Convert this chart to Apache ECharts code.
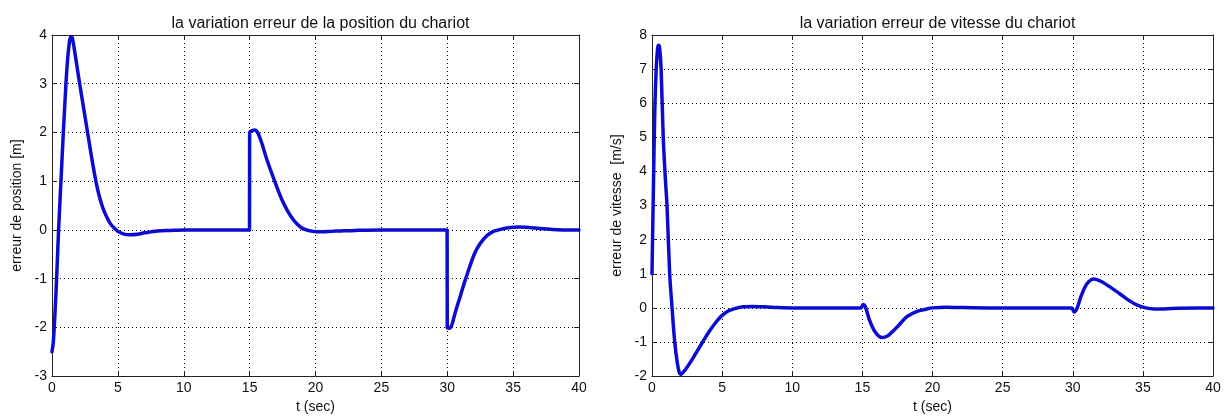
<!DOCTYPE html>
<html>
<head>
<meta charset="utf-8">
<script src="https://cdn.jsdelivr.net/npm/echarts@6/dist/echarts.min.js"></script>
<style>
html,body{margin:0;padding:0;background:#fff;}
#c{width:1225px;height:419px;}
</style>
</head>
<body>
<div id="c"></div>
<script>
// ---- Data ----
var titles = ["la variation erreur de la position du chariot", "la variation erreur de vitesse du chariot"];
var yNames = ["erreur de position [m]", "erreur de vitesse  [m/s]"];
var xName = "t (sec)";

// position error (left)
var posT = [0,0.1,0.2,0.35,0.5,0.68,0.86,1.06,1.2,1.35,1.45,1.55,1.7,1.9,2.07,2.4,2.7,3.0,3.33,3.6,3.9,4.2,4.5,4.8,5.0,5.4,5.9,6.5,7.0,7.5,8.0,9.0,10,12,14.99,
            15,15.2,15.4,15.6,15.9,16.3,16.9,17.4,17.9,18.4,18.9,19.3,19.8,20.5,21.2,22,23,25,29.99,
            30,30.15,30.35,30.6,31.0,31.4,32.05,32.5,33.0,33.5,33.9,34.5,35.4,36.2,37,38,39,40];
var posV = [-2.5,-2.3,-1.85,-1.0,0.0,1.0,2.0,3.0,3.55,3.9,3.97,3.93,3.7,3.35,3.05,2.5,2.0,1.5,1.0,0.68,0.42,0.24,0.1,0.02,-0.03,-0.08,-0.1,-0.09,-0.06,-0.04,-0.02,-0.01,0,0,0,
            2.0,2.04,2.05,2.0,1.8,1.45,1.0,0.65,0.38,0.18,0.05,0.0,-0.03,-0.04,-0.03,-0.02,-0.01,0,0,
            -2.0,-2.02,-1.95,-1.7,-1.35,-1.0,-0.5,-0.28,-0.12,-0.03,0.0,0.04,0.06,0.05,0.03,0.01,0,0];

// velocity error (right)
var velT = [0,0.1,0.2,0.3,0.4,0.47,0.55,0.65,0.8,0.95,1.07,1.26,1.43,1.62,1.8,1.95,2.05,2.2,2.5,3.0,3.57,4.1,4.6,5.0,5.4,5.9,6.5,7.2,8,9,10,12,14.9,
            15.05,15.2,15.5,15.9,16.4,16.8,17.5,18.2,18.9,19.5,20,21,22,24,29.9,
            30.1,30.3,30.6,31.0,31.5,32.0,32.7,33.4,34.0,34.6,35.2,35.8,36.5,37.5,39,40];
var velV = [1.0,3.5,5.8,7.0,7.6,7.7,7.6,7.0,5.0,3.8,3.0,1.0,0.0,-1.0,-1.6,-1.9,-1.95,-1.9,-1.74,-1.42,-1.03,-0.68,-0.4,-0.22,-0.1,-0.02,0.03,0.04,0.03,0.01,0,0,0,
            0.1,0.05,-0.35,-0.7,-0.87,-0.82,-0.55,-0.25,-0.1,-0.04,0,0.02,0.01,0,0,
            -0.12,-0.02,0.35,0.7,0.85,0.78,0.6,0.4,0.22,0.08,0.0,-0.03,-0.03,-0.01,0,0];

var yRanges = [[-3, 4, 1], [-2, 8, 1]];
var xRange = [0, 40, 5];

function zip(a, b) { return a.map(function (t, i) { return [t, b[i]]; }); }

var FONT = 'Liberation Sans, Arial, sans-serif';
var grids = [
  {left: 52, top: 35, width: 527, height: 347},
  {left: 652, top: 35, width: 561, height: 347}
];
var centers = [52 + 527 / 2, 652 + 561 / 2];

var xAxes = [], yAxes = [];
for (var g = 0; g < 2; g++) {
  var common = {
    gridIndex: g, type: 'value',
    axisLine: {show: true, onZero: false, lineStyle: {color: '#222', width: 1}},
    axisTick: {show: true, inside: true, length: 5, lineStyle: {color: '#222'}},
    axisLabel: {show: true, color: '#111', fontSize: 14, fontFamily: FONT, margin: 5},
    splitLine: {show: true, lineStyle: {color: '#000', type: [1, 3], width: 1}}
  };
  xAxes.push(Object.assign({}, common, {
    position: 'bottom', min: xRange[0], max: xRange[1], interval: xRange[2],
    name: xName, nameLocation: 'middle', nameGap: 22,
    nameTextStyle: {color: '#111', fontSize: 14, fontFamily: FONT}
  }));
  xAxes.push(Object.assign({}, common, {
    position: 'top', min: xRange[0], max: xRange[1], interval: xRange[2],
    axisLabel: {show: false}, splitLine: {show: false}
  }));
  yAxes.push(Object.assign({}, common, {
    position: 'left', min: yRanges[g][0], max: yRanges[g][1], interval: yRanges[g][2],
    name: yNames[g], nameLocation: 'middle', nameGap: 28,
    nameTextStyle: {color: '#111', fontSize: 14, fontFamily: FONT}
  }));
  yAxes.push(Object.assign({}, common, {
    position: 'right', min: yRanges[g][0], max: yRanges[g][1], interval: yRanges[g][2],
    axisLabel: {show: false}, splitLine: {show: false}
  }));
}

var chart = echarts.init(document.getElementById('c'), null, {renderer: 'canvas'});
chart.setOption({
  animation: false,
  backgroundColor: '#fff',
  title: titles.map(function (t, i) {
    return {text: t, left: centers[i], top: 11, textAlign: 'center',
      textStyle: {fontSize: 16, fontWeight: 'normal', color: '#111', fontFamily: FONT}};
  }),
  grid: grids,
  xAxis: xAxes,
  yAxis: yAxes,
  series: [
    {type: 'line', xAxisIndex: 0, yAxisIndex: 0, data: zip(posT, posV), showSymbol: false,
     smooth: 0.3, lineStyle: {color: '#0c0cd0', width: 3.5, join: 'round', cap: 'round'}, itemStyle: {color: '#0c0cd0'}},
    {type: 'line', xAxisIndex: 2, yAxisIndex: 2, data: zip(velT, velV), showSymbol: false,
     smooth: 0.3, lineStyle: {color: '#0c0cd0', width: 3.5, join: 'round', cap: 'round'}, itemStyle: {color: '#0c0cd0'}}
  ]
});
</script>
</body>
</html>
